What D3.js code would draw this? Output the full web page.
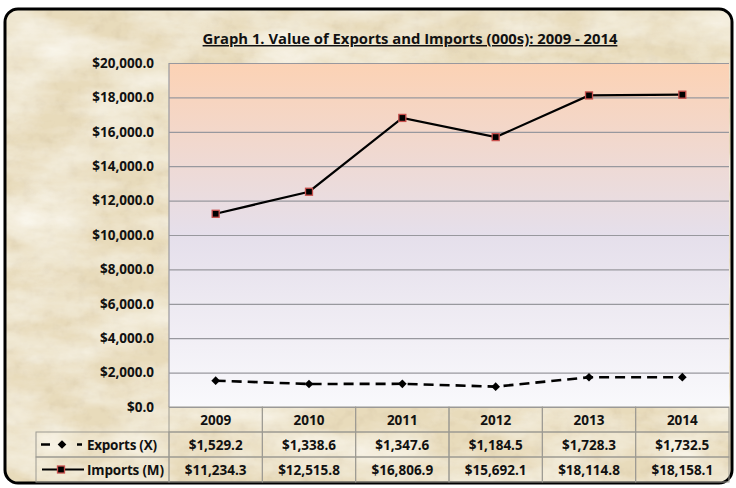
<!DOCTYPE html>
<html lang="en">
<head>
    <meta charset="utf-8">
    <script src="https://d3js.org/d3.v7.min.js"></script>
</head>
<style>
    body { margin: 0; background: #fff; }
    text { font-family: "Open Sans", "Liberation Sans", sans-serif; font-weight: bold; fill: #111; }
</style>
<body>
<script>
    // chart size
    const w = 736
    const h = 488

    // data
    const years = ["2009", "2010", "2011", "2012", "2013", "2014"]
    const exportsX = [1529.2, 1338.6, 1347.6, 1184.5, 1728.3, 1732.5]
    const importsM = [11234.3, 12515.8, 16806.9, 15692.1, 18114.8, 18158.1]
    const seriesNames = ["Exports (X)", "Imports (M)"]
    const yTicks = [0, 2000, 4000, 6000, 8000, 10000, 12000, 14000, 16000, 18000, 20000]
    const title = "Graph 1. Value of Exports and Imports (000s): 2009 - 2014"

    // plot box
    const pLeft = 169, pRight = 729, pTop = 63, pBottom = 407
    const rowH = 25
    const fs = "13.5px"

    let svg = d3.select("body")
        .append("svg")
        .attr("width", w)
        .attr("height", h)

    let defs = svg.append("defs")

    // parchment look: fine noise over a beige fill
    let filt = defs.append("filter").attr("id", "paper")
        .attr("x", 0).attr("y", 0).attr("width", "100%").attr("height", "100%")
    filt.append("feTurbulence").attr("type", "fractalNoise")
        .attr("baseFrequency", "0.012 0.03").attr("numOctaves", 5).attr("seed", 3)
    filt.append("feColorMatrix").attr("type", "matrix")
        .attr("values", "0 0 0 0 0.97  0 0 0 0 0.95  0 0 0 0 0.88  1.5 0 0 0 -0.5")
    filt.append("feComposite").attr("in2", "SourceGraphic").attr("operator", "in").attr("result", "light")
    filt.append("feTurbulence").attr("type", "fractalNoise")
        .attr("baseFrequency", "0.09").attr("numOctaves", 3).attr("seed", 11)
    filt.append("feColorMatrix").attr("type", "matrix")
        .attr("values", "0 0 0 0 0.66  0 0 0 0 0.56  0 0 0 0 0.38  0 1.0 0 0 -0.48")
    filt.append("feComposite").attr("in2", "SourceGraphic").attr("operator", "in").attr("result", "dark")
    let fm = filt.append("feMerge")
    fm.append("feMergeNode").attr("in", "SourceGraphic")
    fm.append("feMergeNode").attr("in", "dark")
    fm.append("feMergeNode").attr("in", "light")

    let grad = defs.append("linearGradient").attr("id", "plotbg")
        .attr("x1", 0).attr("y1", 0).attr("x2", 0).attr("y2", 1)
    grad.append("stop").attr("offset", "0%").attr("stop-color", "#fcd2b4")
    grad.append("stop").attr("offset", "50%").attr("stop-color", "#e5dfeb")
    grad.append("stop").attr("offset", "100%").attr("stop-color", "#f9f9fc")

    // background with rounded black border
    svg.append("rect")
        .attr("x", 5).attr("y", 9)
        .attr("width", w - 9).attr("height", h - 14)
        .attr("rx", 13)
        .attr("fill", "#e8dbbb")
        .attr("filter", "url(#paper)")
    svg.append("rect")
        .attr("x", 5).attr("y", 9)
        .attr("width", w - 9).attr("height", h - 14)
        .attr("rx", 13)
        .attr("fill", "none")
        .attr("stroke", "#000")
        .attr("stroke-width", 3)

    // scales
    let xScale = d3.scaleBand().domain(years).range([pLeft, pRight])
    let yScale = d3.scaleLinear().domain([0, 20000]).range([pBottom, pTop])
    let fmt = d => "$" + d3.format(",.1f")(d)

    svg.append("rect")
        .attr("x", pLeft).attr("y", pTop)
        .attr("width", pRight - pLeft).attr("height", pBottom - pTop)
        .attr("fill", "url(#plotbg)")

    // gridlines
    let grid = svg.append("g")
        .attr("transform", "translate(" + pLeft + ",0)")
        .call(d3.axisLeft(yScale).tickValues(yTicks).tickSize(-(pRight - pLeft)).tickFormat(""))
    grid.select(".domain").remove()
    grid.selectAll("line").attr("stroke", "#98989e").attr("stroke-width", 1.2)

    svg.append("line")
        .attr("x1", pLeft).attr("x2", pLeft).attr("y1", pTop).attr("y2", pBottom)
        .attr("stroke", "#98989e").attr("stroke-width", 1.2)

    // y axis labels
    let yaxis = svg.append("g")
        .attr("transform", "translate(" + (pLeft - 15) + ",0)")
        .call(d3.axisLeft(yScale).tickValues(yTicks).tickSize(0).tickPadding(0).tickFormat(fmt))
    yaxis.select(".domain").remove()
    yaxis.selectAll("text")
        .attr("font-size", fs)
        .style("font-family", "'Open Sans', sans-serif")
        .style("font-weight", "bold")

    // title
    svg.append("text")
        .attr("x", 410).attr("y", 44)
        .attr("text-anchor", "middle")
        .attr("font-size", "14.8px")
        .attr("text-decoration", "underline")
        .text(title)

    let cx = d => xScale(d) + xScale.bandwidth() / 2

    // lines
    let line = d3.line().x((d, i) => cx(years[i])).y(d => yScale(d))

    svg.append("path")
        .datum(importsM)
        .attr("d", line)
        .attr("fill", "none")
        .attr("stroke", "#000")
        .attr("stroke-width", 2.2)

    svg.append("path")
        .datum(exportsX)
        .attr("d", line)
        .attr("fill", "none")
        .attr("stroke", "#000")
        .attr("stroke-width", 2.6)
        .attr("stroke-dasharray", "10,6")

    svg.selectAll(".imp")
        .data(importsM)
        .enter()
        .append("rect")
        .attr("class", "imp")
        .attr("x", (d, i) => cx(years[i]) - 3.5)
        .attr("y", d => yScale(d) - 3.5)
        .attr("width", 7).attr("height", 7)
        .attr("fill", "#000")
        .attr("stroke", "#c8504d")
        .attr("stroke-width", 1.3)

    let diamond = d3.symbol().type(d3.symbolDiamond2).size(48)
    svg.selectAll(".exp")
        .data(exportsX)
        .enter()
        .append("path")
        .attr("class", "exp")
        .attr("d", diamond)
        .attr("transform", (d, i) => "translate(" + cx(years[i]) + "," + yScale(d) + ")")
        .attr("fill", "#000")

    // data table
    let tbl = svg.append("g")
    let tLeft = 36
    let lineColor = "#9c9a92"

    // header cells
    tbl.selectAll(".hdr")
        .data(years)
        .enter()
        .append("rect")
        .attr("x", d => xScale(d)).attr("y", pBottom)
        .attr("width", xScale.bandwidth()).attr("height", rowH)
        .attr("fill", "none").attr("stroke", lineColor)
    tbl.selectAll(".hdrt")
        .data(years)
        .enter()
        .append("text")
        .attr("x", d => cx(d)).attr("y", pBottom + rowH / 2 + 5)
        .attr("text-anchor", "middle")
        .attr("font-size", fs)
        .text(d => d)

    let seriesRows = [exportsX, importsM]
    seriesRows.forEach((vals, r) => {
        let y0 = pBottom + rowH * (r + 1)
        tbl.append("rect")
            .attr("x", tLeft).attr("y", y0)
            .attr("width", pLeft - tLeft).attr("height", rowH)
            .attr("fill", "none").attr("stroke", lineColor)
        tbl.selectAll(".c" + r)
            .data(vals)
            .enter()
            .append("rect")
            .attr("x", (d, i) => xScale(years[i])).attr("y", y0)
            .attr("width", xScale.bandwidth()).attr("height", rowH)
            .attr("fill", "none").attr("stroke", lineColor)
        tbl.selectAll(".t" + r)
            .data(vals)
            .enter()
            .append("text")
            .attr("x", (d, i) => cx(years[i])).attr("y", y0 + rowH / 2 + 5)
            .attr("text-anchor", "middle")
            .attr("font-size", fs)
            .text(fmt)
        tbl.append("text")
            .attr("x", 87).attr("y", y0 + rowH / 2 + 5)
            .attr("font-size", fs)
            .attr("textLength", r == 0 ? 70 : 77)
            .text(seriesNames[r])
    })

    // legend keys in the table
    let ey = pBottom + rowH * 1.5
    svg.append("line")
        .attr("x1", 41).attr("x2", 82).attr("y1", ey).attr("y2", ey)
        .attr("stroke", "#000").attr("stroke-width", 2.6)
        .attr("stroke-dasharray", "9,27,5")
    svg.append("path")
        .attr("d", diamond)
        .attr("transform", "translate(62," + ey + ")")
        .attr("fill", "#000")
    let iy = pBottom + rowH * 2.5
    svg.append("line")
        .attr("x1", 42).attr("x2", 84).attr("y1", iy).attr("y2", iy)
        .attr("stroke", "#000").attr("stroke-width", 2.2)
    svg.append("rect")
        .attr("x", 61 - 3.5).attr("y", iy - 3.5)
        .attr("width", 7).attr("height", 7)
        .attr("fill", "#000")
        .attr("stroke", "#c8504d").attr("stroke-width", 1.3)
</script>
</body>
</html>
